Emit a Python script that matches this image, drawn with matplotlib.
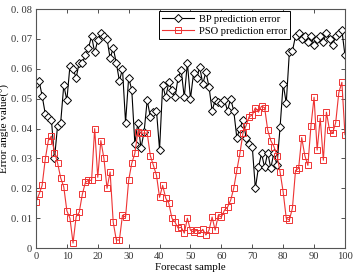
import numpy as np
import matplotlib
matplotlib.use('Agg')
import matplotlib.pyplot as plt
from matplotlib.ticker import FixedLocator, FixedFormatter

# Data
sample = list(range(0, 101))

bpError = [0.055, 0.056, 0.051, 0.045, 0.044, 0.043, 0.030, 0.041, 0.042, 0.0545,
           0.0495, 0.061, 0.060, 0.057, 0.062, 0.062, 0.0645, 0.067, 0.071, 0.0655,
           0.0695, 0.072, 0.071, 0.070, 0.0635, 0.067, 0.062, 0.056, 0.060, 0.042,
           0.057, 0.053, 0.035, 0.042, 0.0335, 0.039, 0.0495, 0.044, 0.0455, 0.046,
           0.033, 0.0545, 0.0505, 0.0555, 0.053, 0.0505, 0.057, 0.0595, 0.0505, 0.062,
           0.050, 0.0585, 0.057, 0.0605, 0.055, 0.059, 0.054, 0.046, 0.0495, 0.049,
           0.0485, 0.0495, 0.046, 0.050, 0.046, 0.037, 0.040, 0.043, 0.037, 0.035,
           0.034, 0.020, 0.027, 0.0317, 0.027, 0.032, 0.0267, 0.032, 0.0277, 0.0405,
           0.055, 0.0485, 0.0655, 0.066, 0.071, 0.072, 0.070, 0.071, 0.069, 0.071,
           0.068, 0.070, 0.071, 0.069, 0.072, 0.070, 0.068, 0.071, 0.072, 0.073,
           0.0645]

psoError = [0.0155, 0.018, 0.021, 0.0297, 0.036, 0.0375, 0.032, 0.0285, 0.0235, 0.0205,
            0.0125, 0.010, 0.0017, 0.0105, 0.012, 0.018, 0.022, 0.0227, 0.0227, 0.040,
            0.0237, 0.036, 0.030, 0.020, 0.0255, 0.0087, 0.0027, 0.0027, 0.011, 0.0104,
            0.0227, 0.0284, 0.0317, 0.039, 0.0385, 0.0385, 0.0385, 0.031, 0.0277, 0.0244,
            0.017, 0.021, 0.0167, 0.015, 0.010, 0.0087, 0.0067, 0.007, 0.005, 0.010,
            0.006, 0.0054, 0.006, 0.005, 0.0063, 0.0044, 0.006, 0.0104, 0.006, 0.011,
            0.0104, 0.0127, 0.0137, 0.016, 0.020, 0.026, 0.0317, 0.0385, 0.041, 0.044,
            0.0445, 0.047, 0.0455, 0.0475, 0.047, 0.0395, 0.036, 0.034, 0.031, 0.0255,
            0.0188, 0.010, 0.0094, 0.0134, 0.026, 0.0267, 0.037, 0.031, 0.0277, 0.041,
            0.0505, 0.0328, 0.0435, 0.0294, 0.0455, 0.0395, 0.0385, 0.042, 0.052, 0.0555,
            0.038]

xticks = [0, 10, 20, 30, 40, 50, 60, 70, 80, 90, 100]
yticks = [0, 0.01, 0.02, 0.03, 0.04, 0.05, 0.06, 0.07, 0.08]
ytickLabels = ['0', '0. 01', '0. 02', '0. 03', '0. 04', '0. 05', '0. 06', '0. 07', '0. 08']

plt.rcParams['font.family'] = ['Liberation Serif', 'DejaVu Serif']

fig = plt.figure(figsize=(3.56, 2.76), dpi=100)
ax = fig.add_axes([0.101, 0.101, 0.868, 0.866])

ax.plot(sample, bpError, color='black', lw=0.8, marker='D', ms=3.6,
        mfc='white', mec='black', mew=0.7, label='BP prediction error')
ax.plot(sample, psoError, color='#ee3333', lw=0.8, marker='s', ms=4.6,
        mfc='none', mec='#ee3333', mew=0.7, label='PSO prediction error')

ax.set_xlim(0, 100)
ax.set_ylim(0, 0.08)
ax.xaxis.set_major_locator(FixedLocator(xticks))
ax.yaxis.set_major_locator(FixedLocator(yticks))
ax.yaxis.set_major_formatter(FixedFormatter(ytickLabels))
ax.tick_params(direction='in', top=True, right=True, labelsize=7.6,
               length=3, width=0.6, colors='#333333', pad=3)
for s in ax.spines.values():
    s.set_color('#555555')
    s.set_linewidth(0.8)

ax.set_xlabel('Forecast sample', fontsize=7.8, labelpad=1)
ax.set_ylabel('Error angle value(°)', fontsize=8)
ax.yaxis.set_label_coords(-0.084, 0.5)

leg = ax.legend(loc='upper right', bbox_to_anchor=(0.822, 0.99), fontsize=7.6,
                fancybox=False, framealpha=1, edgecolor='black', borderpad=0.3,
                handlelength=3.1, handletextpad=0.4, labelspacing=0.2,
                borderaxespad=0)
leg.get_frame().set_linewidth(0.7)

plt.savefig('out.png', dpi=100)
plt.close()
